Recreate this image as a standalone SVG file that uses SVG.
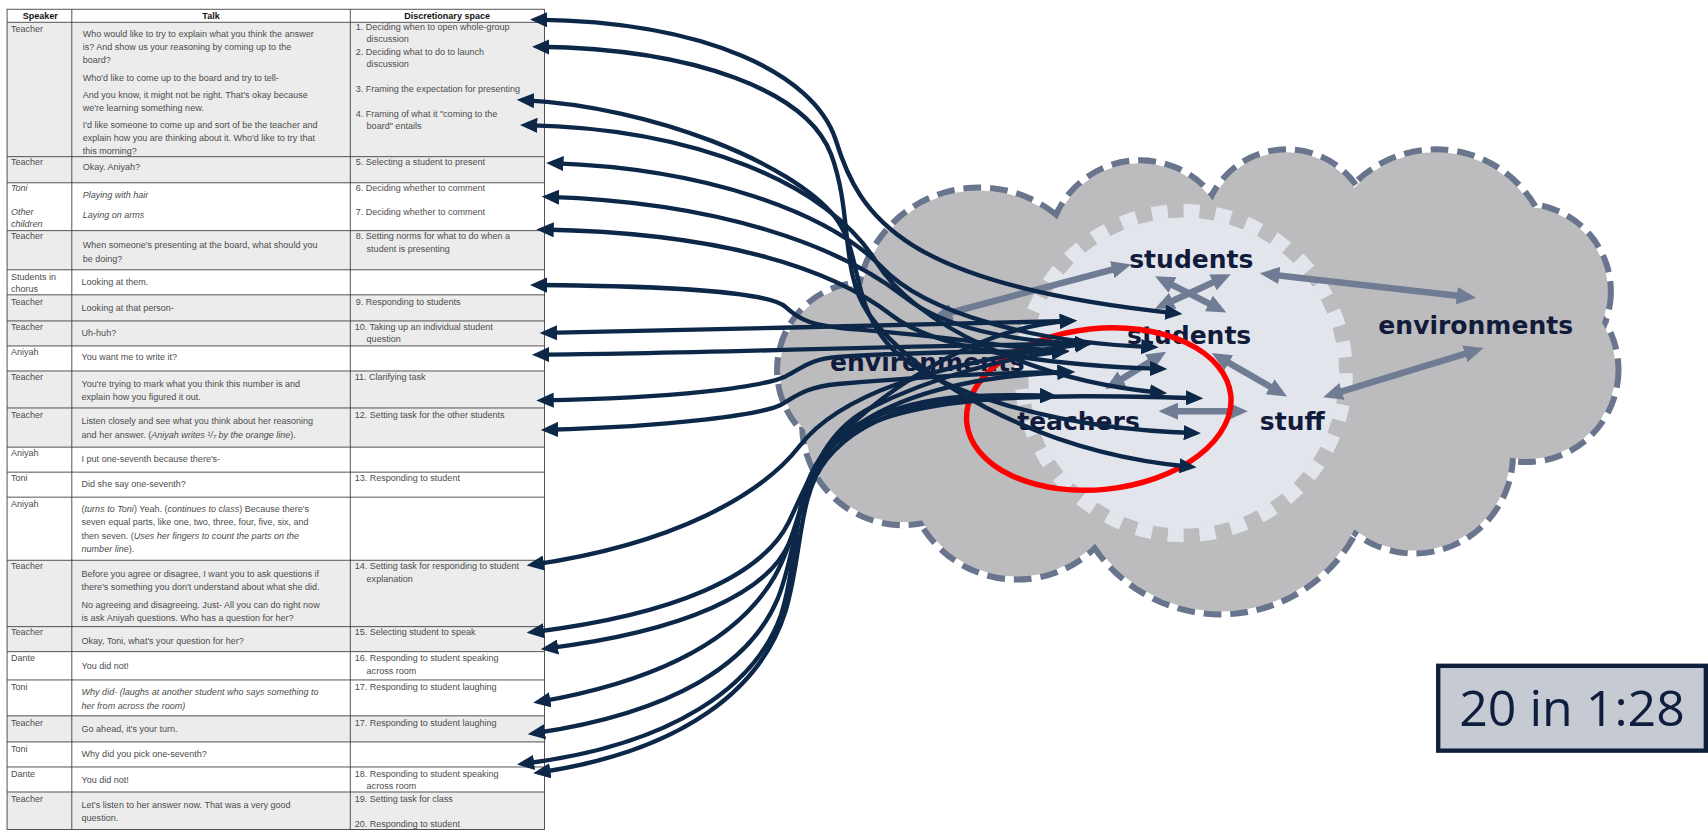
<svg xmlns="http://www.w3.org/2000/svg" width="1708" height="835" viewBox="0 0 1708 835">
<defs>
<style>
.t{font-family:"Liberation Sans",Arial,sans-serif;font-size:8.3px;fill:#4d4d4d}
.i{font-style:italic}
.h{font-family:"Liberation Sans",Arial,sans-serif;font-size:8.3px;font-weight:bold;fill:#111}
.grid{stroke:#3a3a3a;stroke-width:0.8;fill:none}
.sh{fill:#ececec}
.lobe{fill:#bcbcbe}
.lobes{fill:none;stroke:#68758d;stroke-width:11;stroke-dasharray:16 8}
.lbl{font-family:"DejaVu Sans",Verdana,sans-serif;font-weight:bold;font-size:23px;fill:#121b3b}
.ga{fill:none;stroke:#6f7c94;stroke-width:6;marker-start:url(#gh);marker-end:url(#gh)}
.da{fill:none;stroke:#0d2749;stroke-width:4;marker-start:url(#dh);marker-end:url(#dh)}
</style>
<marker id="dh" markerUnits="userSpaceOnUse" markerWidth="16" markerHeight="14" refX="10" refY="7" orient="auto-start-reverse"><path d="M0,0 L16,7 L0,14 z" fill="#0d2749"/></marker>
<marker id="gh" markerUnits="userSpaceOnUse" markerWidth="18" markerHeight="16" refX="11" refY="8" orient="auto-start-reverse"><path d="M0,0 L18,8 L0,16 z" fill="#6f7c94"/></marker>
</defs>
<rect width="1708" height="835" fill="#ffffff"/>
<g transform="scale(1.0879)">

<g id="table" xml:space="preserve">
<rect class="sh" x="6.5" y="20.5" width="494" height="123.5"/>
<rect class="sh" x="6.5" y="144" width="494" height="24"/>
<rect class="sh" x="6.5" y="212" width="494" height="36"/>
<rect class="sh" x="6.5" y="271" width="494" height="47"/>
<rect class="sh" x="6.5" y="341" width="494" height="70"/>
<rect class="sh" x="6.5" y="515" width="494" height="84"/>
<rect class="sh" x="6.5" y="658" width="494" height="24"/>
<rect class="sh" x="6.5" y="728" width="494" height="34.5"/>
<rect class="grid" x="6.5" y="8.5" width="494" height="754" stroke-width="1"/>
<path class="grid" d="M66,8.5V762.5 M322,8.5V762.5 M6.5,20.5H500.5 M6.5,144H500.5 M6.5,168H500.5 M6.5,212H500.5 M6.5,248H500.5 M6.5,271H500.5 M6.5,295H500.5 M6.5,318H500.5 M6.5,341H500.5 M6.5,375H500.5 M6.5,411H500.5 M6.5,434H500.5 M6.5,457H500.5 M6.5,515H500.5 M6.5,576H500.5 M6.5,599H500.5 M6.5,625H500.5 M6.5,658H500.5 M6.5,682H500.5 M6.5,705H500.5 M6.5,728H500.5"/>
<text class="h" x="37" y="17.5" text-anchor="middle">Speaker</text>
<text class="h" x="194" y="17.5" text-anchor="middle">Talk</text>
<text class="h" x="411" y="17.5" text-anchor="middle">Discretionary space</text>

<text class="t" x="10" y="29">Teacher</text>
<text class="t" x="76" y="34">Who would like to try to explain what you think the answer</text>
<text class="t" x="76" y="46">is?  And show us your reasoning by coming up to the</text>
<text class="t" x="76" y="58">board?</text>
<text class="t" x="76" y="74">Who'd like to come up to the board and try to tell-</text>
<text class="t" x="76" y="90">And you know, it might not be right.  That's okay because</text>
<text class="t" x="76" y="102">we're learning something new.</text>
<text class="t" x="76" y="118">I'd like someone to come up and sort of be the teacher and</text>
<text class="t" x="76" y="130">explain how you are thinking about it.  Who'd like to try that</text>
<text class="t" x="76" y="142">this morning?</text>
<text class="t" x="327" y="28">1. Deciding when to open whole-group</text>
<text class="t" x="337" y="39">discussion</text>
<text class="t" x="327" y="51">2. Deciding what to do to launch</text>
<text class="t" x="337" y="62">discussion</text>
<text class="t" x="327" y="85">3. Framing the expectation for presenting</text>
<text class="t" x="327" y="108">4. Framing of what it "coming to the</text>
<text class="t" x="337" y="119">board" entails</text>

<text class="t" x="10" y="152">Teacher</text>
<text class="t" x="76" y="156">Okay. Aniyah?</text>
<text class="t" x="327" y="152">5. Selecting a student to present</text>

<text class="t i" x="10" y="176">Toni</text>
<text class="t i" x="10" y="198">Other</text>
<text class="t i" x="10" y="209">children</text>
<text class="t i" x="76" y="182">Playing with hair</text>
<text class="t i" x="76" y="200">Laying on arms</text>
<text class="t" x="327" y="176">6. Deciding whether to comment</text>
<text class="t" x="327" y="198">7. Deciding whether to comment</text>

<text class="t" x="10" y="220">Teacher</text>
<text class="t" x="76" y="228">When someone's presenting at the board, what should you</text>
<text class="t" x="76" y="241">be doing?</text>
<text class="t" x="327" y="220">8. Setting norms for what to do when a</text>
<text class="t" x="337" y="232">student is presenting</text>

<text class="t" x="10" y="257">Students in</text>
<text class="t" x="10" y="268">chorus</text>
<text class="t" x="75" y="262">Looking at them.</text>

<text class="t" x="10" y="280">Teacher</text>
<text class="t" x="75" y="286">Looking at that person-</text>
<text class="t" x="327" y="280">9. Responding to students</text>

<text class="t" x="10" y="303">Teacher</text>
<text class="t" x="75" y="309">Uh-huh?</text>
<text class="t" x="326" y="303">10. Taking up an individual student</text>
<text class="t" x="337" y="314">question</text>

<text class="t" x="10" y="326">Aniyah</text>
<text class="t" x="75" y="331">You want me to write it?</text>

<text class="t" x="10" y="349">Teacher</text>
<text class="t" x="75" y="356">You're trying to mark what you think this number is and</text>
<text class="t" x="75" y="368">explain how you figured it out.</text>
<text class="t" x="326" y="349">11.  Clarifying task</text>

<text class="t" x="10" y="384">Teacher</text>
<text class="t" x="75" y="390">Listen closely and see what you think about her reasoning</text>
<text class="t" x="75" y="403">and her answer.  (<tspan class="i">Aniyah writes ¹/₇ by the orange line</tspan>).</text>
<text class="t" x="326" y="384">12. Setting task for the other students</text>

<text class="t" x="10" y="419">Aniyah</text>
<text class="t" x="75" y="425">I put one-seventh because there's-</text>

<text class="t" x="10" y="442">Toni</text>
<text class="t" x="75" y="448">Did she say one-seventh?</text>
<text class="t" x="326" y="442">13.  Responding to student</text>

<text class="t" x="10" y="466">Aniyah</text>
<text class="t" x="75" y="471">(<tspan class="i">turns to Toni</tspan>) Yeah.  (<tspan class="i">continues to class</tspan>) Because there's</text>
<text class="t" x="75" y="483">seven equal parts, like one, two, three, four, five, six, and</text>
<text class="t" x="75" y="495">then seven.  (<tspan class="i">Uses her fingers to count the parts on the</tspan></text>
<text class="t" x="75" y="507"><tspan class="i">number line</tspan>).</text>

<text class="t" x="10" y="523">Teacher</text>
<text class="t" x="75" y="530">Before you agree or disagree, I want you to ask questions if</text>
<text class="t" x="75" y="542">there's something you don't understand about what she did.</text>
<text class="t" x="75" y="559">No agreeing and disagreeing.  Just-  All you can do right now</text>
<text class="t" x="75" y="571">is ask Aniyah questions.  Who has a question for her?</text>
<text class="t" x="326" y="523">14. Setting task for responding to student</text>
<text class="t" x="337" y="535">explanation</text>

<text class="t" x="10" y="584">Teacher</text>
<text class="t" x="75" y="592">Okay, Toni, what's your question for her?</text>
<text class="t" x="326" y="584">15. Selecting student to speak</text>

<text class="t" x="10" y="608">Dante</text>
<text class="t" x="75" y="615">You did not!</text>
<text class="t" x="326" y="608">16.  Responding to student speaking</text>
<text class="t" x="337" y="620">across room</text>

<text class="t" x="10" y="634">Toni</text>
<text class="t i" x="75" y="639">Why did- (laughs at another student who says something to</text>
<text class="t i" x="75" y="652">her from across the room)</text>
<text class="t" x="326" y="634">17.  Responding to student laughing</text>

<text class="t" x="10" y="667">Teacher</text>
<text class="t" x="75" y="673">Go ahead, it's your turn.</text>
<text class="t" x="326" y="667">17.  Responding to student laughing</text>

<text class="t" x="10" y="691">Toni</text>
<text class="t" x="75" y="696">Why did you pick one-seventh?</text>

<text class="t" x="10" y="714">Dante</text>
<text class="t" x="75" y="720">You did not!</text>
<text class="t" x="326" y="714">18. Responding to student speaking</text>
<text class="t" x="337" y="725">across room</text>

<text class="t" x="10" y="737">Teacher</text>
<text class="t" x="75" y="743">Let's listen to her answer now.  That was a very good</text>
<text class="t" x="75" y="755">question.</text>
<text class="t" x="326" y="737">19.  Setting task for class</text>
<text class="t" x="326" y="760">20. Responding to student</text>
</g>

<g id="cloud">
<g class="lobes">
<circle cx="795" cy="340" r="78"/>
<circle cx="900" cy="285" r="110"/>
<circle cx="1048" cy="232" r="82"/>
<circle cx="1183" cy="215" r="75"/>
<circle cx="1320" cy="243" r="103"/>
<circle cx="1400" cy="268" r="78"/>
<circle cx="1403" cy="340" r="82"/>
<circle cx="1300" cy="418" r="88"/>
<circle cx="1122" cy="424" r="138"/>
<circle cx="935" cy="430" r="100"/>
<circle cx="830" cy="390" r="90"/>
</g>
<g class="lobe">
<ellipse cx="1100" cy="345" rx="290" ry="160"/>
<circle cx="795" cy="340" r="78"/>
<circle cx="900" cy="285" r="110"/>
<circle cx="1048" cy="232" r="82"/>
<circle cx="1183" cy="215" r="75"/>
<circle cx="1320" cy="243" r="103"/>
<circle cx="1400" cy="268" r="78"/>
<circle cx="1403" cy="340" r="82"/>
<circle cx="1300" cy="418" r="88"/>
<circle cx="1122" cy="424" r="138"/>
<circle cx="935" cy="430" r="100"/>
<circle cx="830" cy="390" r="90"/>
</g>
</g>

<g id="gear">
<circle cx="1088" cy="343" r="143" fill="#e2e6ec"/>
<circle cx="1088" cy="343" r="149" fill="none" stroke="#e2e6ec" stroke-width="13" pathLength="64" stroke-dasharray="1 1"/>
</g>

<g id="relations">
<path class="ga" d="M864,290 L1033,245"/>
<path class="ga" d="M1165,252 L1350,273"/>
<path class="ga" d="M1223,363 L1357,322"/>
<path class="ga" d="M1120,328 L1177,361"/>
<path class="ga" d="M1072,378 L1140,378"/>
<path class="ga" d="M1022,354 L1066,327"/>
<path class="ga" d="M1068,257 L1121,284"/>
<path class="ga" d="M1125,255 L1068,281"/>
</g>

<g id="labels">
<text id="n-students-top" class="lbl" x="1038" y="246">students</text>
<text id="n-students-mid" class="lbl" x="1036" y="316">students</text>
<text id="n-env-left" class="lbl" x="763" y="341">environments</text>
<text id="n-env-right" class="lbl" x="1267" y="307">environments</text>
<text id="n-teachers" class="lbl" x="935" y="395">teachers</text>
<text id="n-stuff" class="lbl" x="1158" y="395">stuff</text>
</g>

<ellipse id="focus" cx="1010" cy="376" rx="122" ry="74" transform="rotate(-6 1010 376)" fill="none" stroke="#ff0000" stroke-width="5"/>

<g id="connectors">
<path class="da" d="M493,18 C650,20 748,68 768,128 C790,200 830,262 1081,288"/>
<path class="da" d="M495,43 C640,45 742,84 764,142 C784,196 772,250 798,288 C838,345 950,416 1094,429"/>
<path class="da" d="M481,92 C600,98 728,150 768,200 C792,232 782,275 815,315 C855,362 980,395 1098,398"/>
<path class="da" d="M484,115 C640,118 762,170 805,240 C840,298 950,350 1067,361"/>
<path class="da" d="M508,150 C650,155 760,195 810,245 C850,288 950,315 1059,319"/>
<path class="da" d="M504,181 C660,186 770,225 830,272 C868,302 930,314 998,316"/>
<path class="da" d="M499,211 C660,214 762,245 820,290 C858,320 960,336 1067,339"/>
<path class="da" d="M493,262 C620,263 705,268 722,282 C734,293 744,300 790,303 C880,310 930,320 977,323"/>
<path class="da" d="M502,306 C650,304 850,297 984,295"/>
<path class="da" d="M495,326 C650,325 800,318 998,316"/>
<path class="da" d="M499,368 C620,366 700,356 722,346 C738,338 745,330 770,328 C850,323 930,323 977,323"/>
<path class="da" d="M503,395 C620,392 700,381 718,372 C732,364 740,356 770,353 C850,346 930,342 982,342"/>
<path class="da" d="M490,519 C620,500 700,455 735,410 C770,365 850,335 998,316"/>
<path class="da" d="M490,581 C620,565 700,530 725,480 C748,432 760,395 800,375 C860,345 930,328 977,323"/>
<path class="da" d="M503,596 C630,580 705,545 725,500 C742,460 745,420 780,395 C840,360 910,362 966,364"/>
<path class="da" d="M496,645 C610,625 680,585 712,530 C735,490 735,440 770,405 C820,360 900,345 982,342"/>
<path class="da" d="M491,674 C620,655 690,610 715,550 C735,500 730,450 760,415 C810,360 960,362 1100,366"/>
<path class="da" d="M481,702 C620,685 695,630 718,565 C735,512 728,455 755,420 C800,362 900,300 984,295"/>
<path class="da" d="M496,710 C630,690 700,632 722,562 C738,508 733,455 760,422 C800,372 880,362 966,364"/>
</g>

<g id="counter">
<rect x="1322" y="612" width="246" height="78" fill="#c6cad3" stroke="#0f1e3d" stroke-width="4"/>
<text x="1445" y="667" text-anchor="middle" font-family="'Open Sans',sans-serif" font-size="46" fill="#0f1e3d">20 in 1:28</text>
</g>
</g>
</svg>
